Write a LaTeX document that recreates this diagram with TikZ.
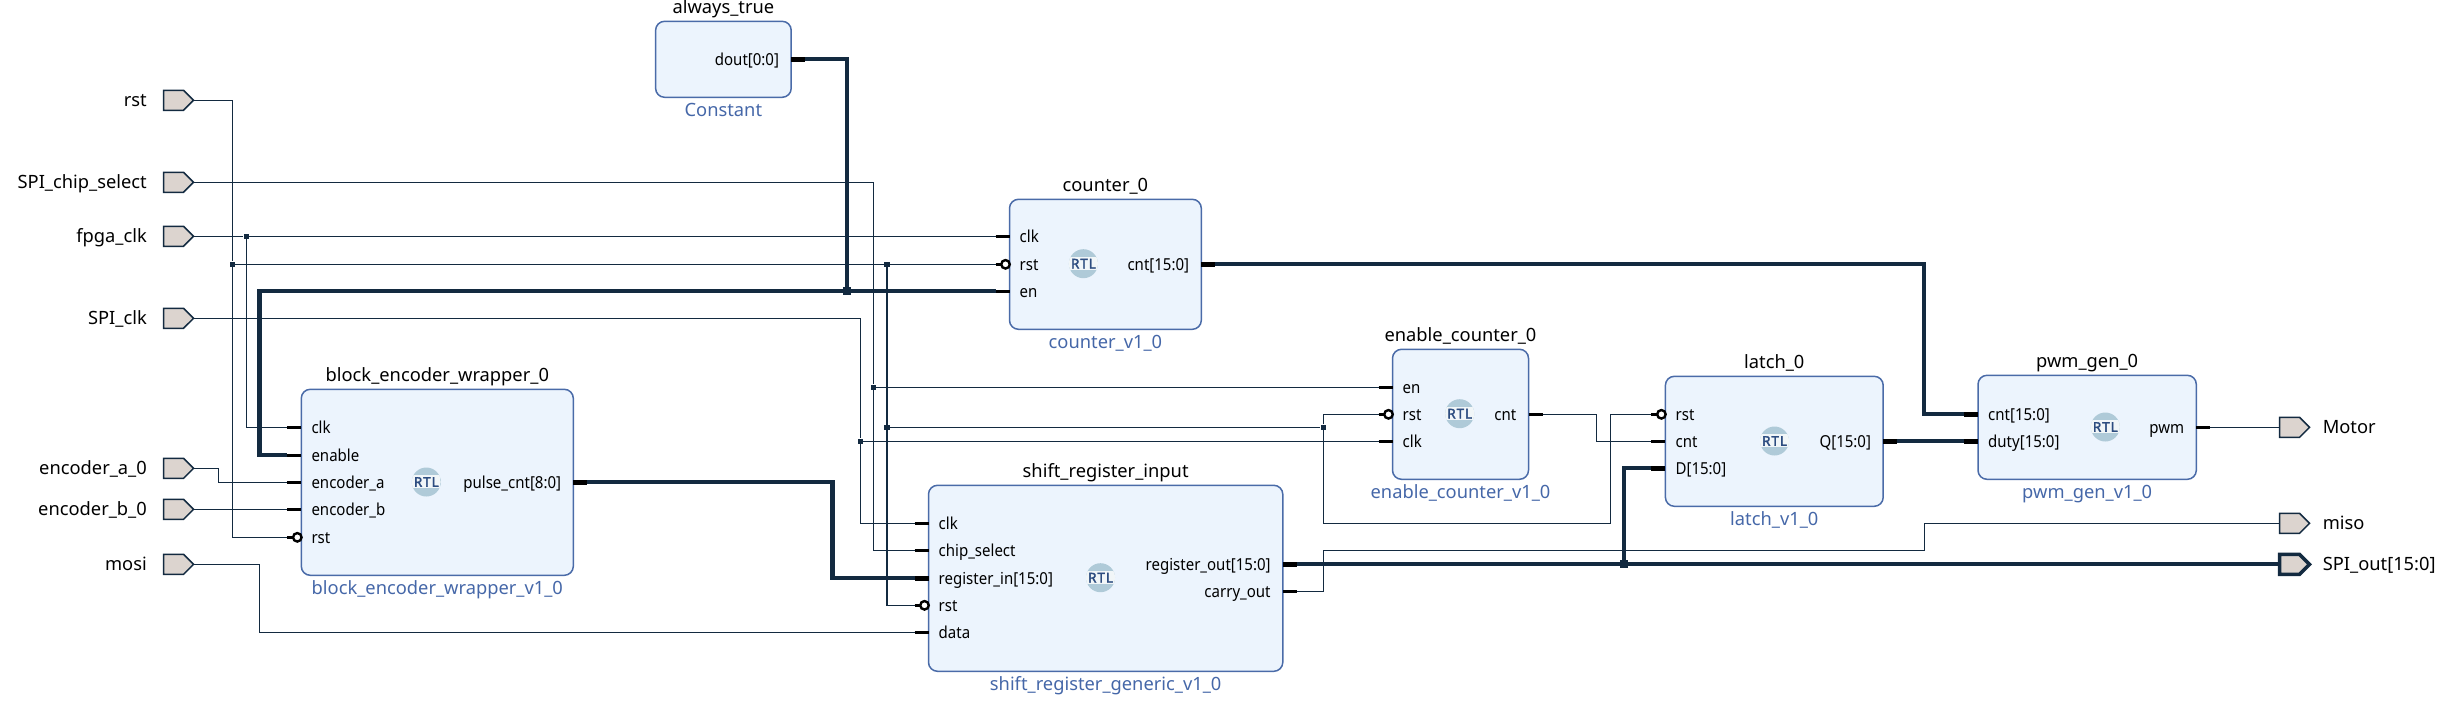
\documentclass[tikz,border=0pt]{standalone}
\usepackage{fontspec}
\setmainfont{Noto Sans}
\newfontfamily\pinfont[FakeStretch=0.91]{Noto Sans}
\newfontfamily\rtlfont[LetterSpace=7,FakeBold=2.5]{Noto Sans}
\usetikzlibrary{shapes.symbols}
\definecolor{wirec}{HTML}{132A40}
\definecolor{blockb}{HTML}{4A6BA8}
\definecolor{blockf}{HTML}{ECF4FD}
\definecolor{portf}{HTML}{DCD4CF}
\definecolor{verc}{HTML}{4567A8}
\definecolor{rtlc}{HTML}{AFCAD8}
\definecolor{rtlt}{HTML}{2C4C80}
\newcommand{\txtsize}{\fontsize{18.3}{22}\selectfont}
\newcommand{\pinsize}{\pinfont\fontsize{16.5}{20}\selectfont}
\tikzset{
  wire/.style={draw=wirec,line width=1.5pt},
  bus/.style={draw=wirec,line width=4.2pt,line join=miter},
  stub/.style={draw=black,line width=3.2pt},
  busstub/.style={draw=black,line width=5pt},
  bubble/.style={circle,draw=black,line width=2.4pt,fill=white,inner sep=0pt,minimum size=8.5pt},
  blockbox/.style={draw=blockb,line width=1.5pt,fill=blockf,rounded corners=9pt,inner sep=0pt},
  titletext/.style={font=\txtsize,text=black,inner sep=0pt,anchor=base},
  vertext/.style={font=\txtsize,text=verc,inner sep=0pt,anchor=base},
  pinlabel/.style={font=\pinsize,text=black,inner sep=0pt},
  port/.style={signal,signal to=east,signal from=nothing,signal pointer angle=90,draw=wirec,line width=1.5pt,fill=portf,minimum width=30pt,minimum height=20pt,inner sep=0pt,outer sep=0pt},
  busport/.style={port,line width=3.5pt},
  portlabel/.style={font=\txtsize,text=black,inner sep=0pt},
  dot/.style={rectangle,fill=wirec,inner sep=0pt,minimum size=5.5pt},
  busdot/.style={rectangle,fill=wirec,inner sep=0pt,minimum size=8pt},
}
% #1 name, #2 left, #3 top, #4 right, #5 bottom, #6 title, #7 version, #8 title y, #9 version y
\newcommand{\ipblock}[9]{%
  \node[blockbox,minimum width={(#4)-(#2)},minimum height={(#5)-(#3)}] (#1) at ({((#2)+(#4))/2},{((#3)+(#5))/2}) {};
  \node[titletext] (#1title) at ({((#2)+(#4))/2},{(#8)+6.5}) {#6};
  \node[vertext] (#1ver) at ({((#2)+(#4))/2},{(#9)+6}) {#7};
}
% #1 name, #2 x, #3 y
\newcommand{\rtlicon}[3]{%
  \fill[rtlc] (#2,#3) circle[radius=14.5];
  \begin{scope}
    \clip (#2,#3) circle[radius=14.5];
    \fill[rtlc!18!white] (#2-15,#3-7) rectangle (#2+15,#3+6);
  \end{scope}
  \node[inner sep=0pt,text=rtlt,font=\rtlfont\fontsize{13.5}{14}\selectfont] (#1) at (#2,#3) {RTL};
}
% input pin: #1 coordinate name, #2 block edge x, #3 y, #4 label, #5 stub style
\newcommand{\inpin}[5]{%
  \coordinate (#1) at ({(#2)-14},#3);
  \draw[#5] (#1) -- (#2,#3);
  \node[pinlabel,anchor=base west] (#1lab) at ({(#2)+10},{(#3)+6}) {#4};
}
\newcommand{\rstpin}[3]{%
  \coordinate (#1) at ({(#2)-14},#3);
  \draw[stub] (#1) -- ({(#2)-6},#3);
  \node[bubble] (#1bub) at ({(#2)-4},#3) {};
  \node[pinlabel,anchor=base west] (#1lab) at ({(#2)+10},{(#3)+6}) {rst};
}
% output pin: #1 coordinate name, #2 block edge x, #3 y, #4 label, #5 stub style
\newcommand{\outpin}[5]{%
  \coordinate (#1) at ({(#2)+14},#3);
  \draw[#5] (#2,#3) -- (#1);
  \node[pinlabel,anchor=base east] (#1lab) at ({(#2)-12},{(#3)+6}) {#4};
}
\begin{document}
\begin{tikzpicture}[x=1pt,y=-1pt]
\useasboundingbox (0,0) rectangle (2453,716);

% ports
\node[port] (rstP) at (173.5,100.3) {};
\node[port] (csP) at (173.5,182.3) {};
\node[port] (clkP) at (173.5,236.3) {};
\node[port] (sclkP) at (173.5,318.3) {};
\node[port] (encaP) at (173.5,468.3) {};
\node[port] (encbP) at (173.5,509.3) {};
\node[port] (mosiP) at (173.5,564.3) {};
\node[port] (motorP) at (2289.5,427.3) {};
\node[port] (misoP) at (2289.5,523.3) {};
\node[busport] (spiP) at (2289.5,564.3) {};
\foreach \n/\t/\yy in {rstP/rst/100.3,csP/SPI\_chip\_select/182.3,clkP/fpga\_clk/236.3,sclkP/SPI\_clk/318.3,encaP/encoder\_a\_0/468.3,encbP/encoder\_b\_0/509.3,mosiP/mosi/564.3}
  \node[portlabel,anchor=base east] (\n lab) at (147,\yy+6) {\t};
\foreach \n/\t/\yy in {motorP/Motor/427.3,misoP/miso/523.3,spiP/SPI\_out[15:0]/564.3}
  \node[portlabel,anchor=base west] (\n lab) at (2322.6,\yy+6) {\t};

% blocks
\ipblock{enc}{301.3}{389.3}{573.3}{575.3}{block\_encoder\_wrapper\_0}{block\_encoder\_wrapper\_v1\_0}{374.7}{588.7}
\ipblock{const}{655.6}{21.3}{791.2}{97.3}{always\_true}{Constant}{7.3}{110.3}
\ipblock{cnt}{1009.5}{199.3}{1201.3}{329.3}{counter\_0}{counter\_v1\_0}{184.7}{342.3}
\ipblock{sr}{928.5}{485.3}{1282.8}{671.3}{shift\_register\_input}{shift\_register\_generic\_v1\_0}{471}{684.7}
\ipblock{en}{1392.5}{349.3}{1528.5}{479.3}{enable\_counter\_0}{enable\_counter\_v1\_0}{334.7}{492.7}
\ipblock{la}{1665.4}{376.3}{1883.2}{506.3}{latch\_0}{latch\_v1\_0}{361.7}{519.3}
\ipblock{pw}{1978}{375.3}{2196.3}{479.3}{pwm\_gen\_0}{pwm\_gen\_v1\_0}{360.7}{492.7}

% RTL icons
\rtlicon{rtlenc}{426.3}{482}
\rtlicon{rtlcnt}{1083.4}{263.7}
\rtlicon{rtlsr}{1100.5}{577.7}
\rtlicon{rtlen}{1459.7}{413.7}
\rtlicon{rtlla}{1774.5}{441}
\rtlicon{rtlpw}{2105.3}{427}

% pins
\inpin{encclk}{301.3}{427.3}{clk}{stub}
\inpin{encen}{301.3}{455.3}{enable}{stub}
\inpin{enca}{301.3}{482.3}{encoder\_a}{stub}
\inpin{encb}{301.3}{509.3}{encoder\_b}{stub}
\rstpin{encrst}{301.3}{537.3}
\outpin{encout}{573.3}{482.3}{pulse\_cnt[8:0]}{busstub}

\outpin{dout}{791.2}{59.3}{dout[0:0]}{busstub}

\inpin{cntclk}{1009.5}{236.3}{clk}{stub}
\rstpin{cntrst}{1009.5}{264.3}
\inpin{cnten}{1009.5}{291.3}{en}{stub}
\outpin{cntout}{1201.3}{264.3}{cnt[15:0]}{busstub}

\inpin{srclk}{928.5}{523.3}{clk}{stub}
\inpin{srcs}{928.5}{550.3}{chip\_select}{stub}
\inpin{srin}{928.5}{578.3}{register\_in[15:0]}{busstub}
\rstpin{srrst}{928.5}{605.3}
\inpin{srdata}{928.5}{632.3}{data}{stub}
\outpin{srout}{1282.8}{564.3}{register\_out[15:0]}{busstub}
\outpin{srcar}{1282.8}{591.3}{carry\_out}{stub}

\inpin{enen}{1392.5}{387.3}{en}{stub}
\rstpin{enrst}{1392.5}{414.3}
\inpin{enclk}{1392.5}{441.3}{clk}{stub}
\outpin{enout}{1528.5}{414.3}{cnt}{stub}

\rstpin{larst}{1665.4}{414.3}
\inpin{lacnt}{1665.4}{441.3}{cnt}{stub}
\inpin{lad}{1665.4}{468.3}{D[15:0]}{busstub}
\outpin{laq}{1883.2}{441.3}{Q[15:0]}{busstub}

\inpin{pwcnt}{1978}{414.3}{cnt[15:0]}{busstub}
\inpin{pwduty}{1978}{441.3}{duty[15:0]}{busstub}
\outpin{pwout}{2196.3}{427.3}{pwm}{stub}

% junctions
\node[dot] (jclk) at (246.4,236.3) {};
\node[dot] (jrst) at (232.5,264.3) {};
\node[dot] (jrst2) at (887,264.3) {};
\node[dot] (jcs) at (873.3,387.3) {};
\node[dot] (jrst3) at (887,427.3) {};
\node[dot] (jsclk) at (860.4,441.3) {};
\node[dot] (jloop) at (1323.4,427.3) {};
\node[busdot] (jen) at (846.6,291.3) {};
\node[busdot] (jsr) at (1624.2,564.3) {};

% thin wires
\draw[wire] (rstP.east) -| (jrst) |- (encrst);
\draw[wire] (csP.east) -| (jcs) |- (srcs);
\draw[wire] (jcs) -- (enen);
\draw[wire] (clkP.east) -- (jclk) -- (cntclk);
\draw[wire] (jclk) |- (encclk);
\draw[wire] (jrst) -- (jrst2) -- (cntrst);
\draw[wire] (jrst2) |- (srrst);
\draw[wire] (jrst3) -- (jloop);
\draw[wire] (sclkP.east) -| (jsclk) |- (srclk);
\draw[wire] (jsclk) -- (enclk);
\draw[wire] (encaP.east) -- (218.3,468.3) |- (enca);
\draw[wire] (encbP.east) -- (encb);
\draw[wire] (mosiP.east) -| (259.4,632.3) -- (srdata);
\draw[wire] (jloop) |- (enrst);
\draw[wire] (jloop) -- (1323.4,523.3) -- (1610.4,523.3) |- (larst);
\draw[wire] (srcar) -- (1323.4,591.3) |- (1924.3,550.3) |- (misoP.west);
\draw[wire] (enout) -- (1596.6,414.3) |- (lacnt);
\draw[wire] (pwout) -- (motorP.west);
% buses
\draw[bus] (dout) -| (jen);
\draw[bus] (cnten) -- (259.4,291.3) |- (encen);
\draw[bus] (encout) -- (832.4,482.3) |- (srin);
\draw[bus] (srout) -- (spiP.west);
\draw[bus] (jsr) |- (lad);
\draw[bus] (cntout) -- (1924.3,264.3) |- (pwcnt);
\draw[bus] (laq) -- (pwduty);
\end{tikzpicture}
\end{document}
